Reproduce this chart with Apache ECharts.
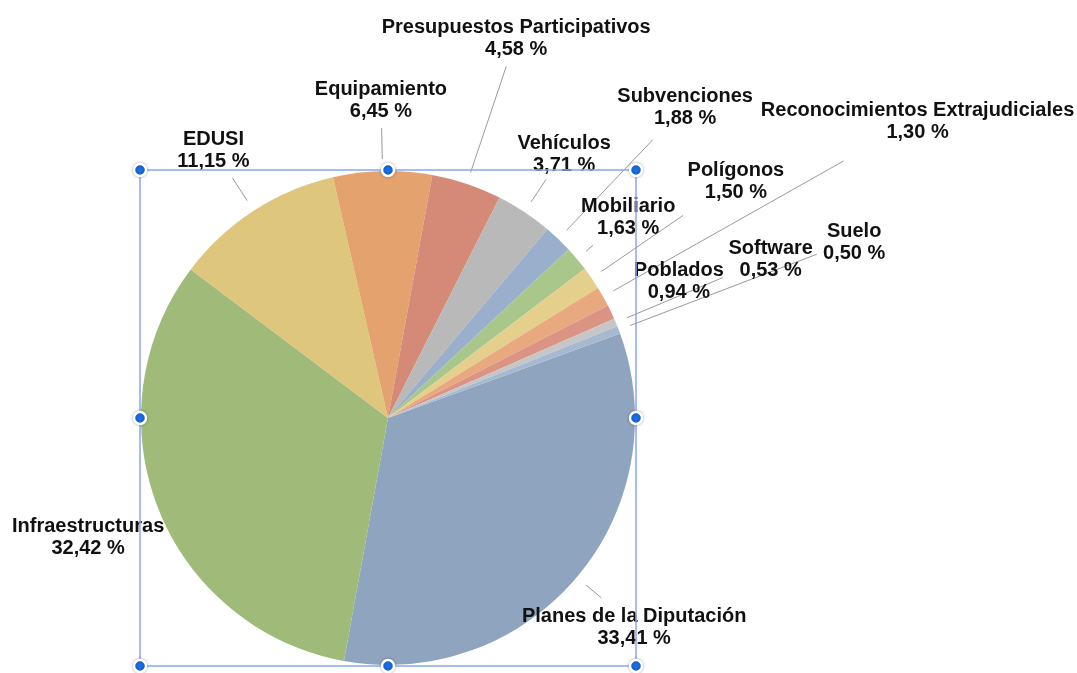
<!DOCTYPE html>
<html>
<head>
<meta charset="utf-8">
<script src="https://cdn.jsdelivr.net/npm/echarts@6/dist/echarts.min.js"></script>
<style>
  html, body { margin: 0; padding: 0; background: #fff; }
  #chart { width: 1077px; height: 673px; }
</style>
</head>
<body>
<div id="chart"></div>
<script>
const names = ['Planes de la Diputación', 'Infraestructuras', 'EDUSI', 'Equipamiento',
  'Presupuestos Participativos', 'Vehículos', 'Subvenciones', 'Mobiliario', 'Polígonos',
  'Reconocimientos Extrajudiciales', 'Poblados', 'Software', 'Suelo']
const values = [33.41, 32.42, 11.15, 6.45, 4.58, 3.71, 1.88, 1.63, 1.50, 1.30, 0.94, 0.53, 0.50]
const colors = ['#8EA4BF', '#A0BA7A', '#DEC77C', '#E4A26F', '#D48A77', '#B9B9B9', '#99AFCB',
  '#A9C78A', '#E4D08C', '#E8A97E', '#DB9383', '#C6C6C6', '#A7B9D1']

// label placement: radial distance (px from pie centre) of each label and of its leader line end
const labelDist = [322, 322, 321, 320, 402, 319, 431, 314, 422, 608, 322, 415, 499]
const lineEnd = [279, 0, 286, 290, 371, 286, 384, 268, 358, 523, 0, 363, 459]

const cx = 388, cy = 418, radius = 247, startAngle = 20

const total = values.reduce((a, b) => a + b, 0)
const midAngles = []
let acc = 0
values.forEach(v => {
  midAngles.push((startAngle - (acc + v / 2) / total * 360) * Math.PI / 180)
  acc += v
})
const polar = (a, d) => [cx + d * Math.cos(a), cy - d * Math.sin(a)]

const fmt = v => v.toFixed(2).replace('.', ',') + ' %'

const chart = echarts.init(document.getElementById('chart'))

// selection frame drawn over the pie
const x0 = cx - radius - 1, x1 = cx + radius + 1
const y0 = cy - radius - 1, y1 = cy + radius + 1
const handles = [[x0, y0], [cx, y0], [x1, y0], [x0, cy], [x1, cy], [x0, y1], [cx, y1], [x1, y1]]

const option = {
  backgroundColor: '#fff',
  animation: false,
  series: [
    {
      type: 'pie',
      center: [cx, cy],
      radius: radius,
      startAngle: startAngle,
      clockwise: true,
      avoidLabelOverlap: false,
      emphasis: { disabled: true },
      itemStyle: { borderWidth: 0 },
      label: {
        show: true,
        position: 'outside',
        formatter: p => p.name + '\n' + fmt(p.value),
        color: '#111',
        fontFamily: 'Liberation Sans',
        fontWeight: 'bold',
        fontSize: 20,
        lineHeight: 22,
        align: 'center'
      },
      labelLine: {
        show: true,
        lineStyle: { color: '#9a9a9a', width: 1 }
      },
      labelLayout: p => {
        const i = p.dataIndex
        const a = midAngles[i]
        const pos = polar(a, labelDist[i])
        const res = { x: pos[0], y: pos[1] + 2, align: 'center', verticalAlign: 'middle' }
        if (lineEnd[i]) {
          const p0 = polar(a, radius + 12)
          const p1 = polar(a, lineEnd[i])
          res.labelLinePoints = [p0, p1, p1]
        }
        return res
      },
      data: names.map((n, i) => ({
        name: n,
        value: values[i],
        itemStyle: { color: colors[i] },
        labelLine: { show: lineEnd[i] > 0 }
      }))
    }
  ],
  graphic: {
    elements: [
      {
        type: 'rect',
        z: 100,
        shape: { x: x0, y: y0, width: x1 - x0, height: y1 - y0 },
        style: { fill: null, stroke: '#86A8F2', lineWidth: 1.5 }
      },
      ...handles.map(h => ({
        type: 'circle',
        z: 101,
        shape: { cx: h[0], cy: h[1], r: 6 },
        style: {
          fill: '#1A6DE2', stroke: '#fff', lineWidth: 2.5,
          shadowBlur: 3, shadowColor: 'rgba(0,0,0,0.3)'
        }
      }))
    ]
  }
}

chart.setOption(option)
</script>
</body>
</html>
